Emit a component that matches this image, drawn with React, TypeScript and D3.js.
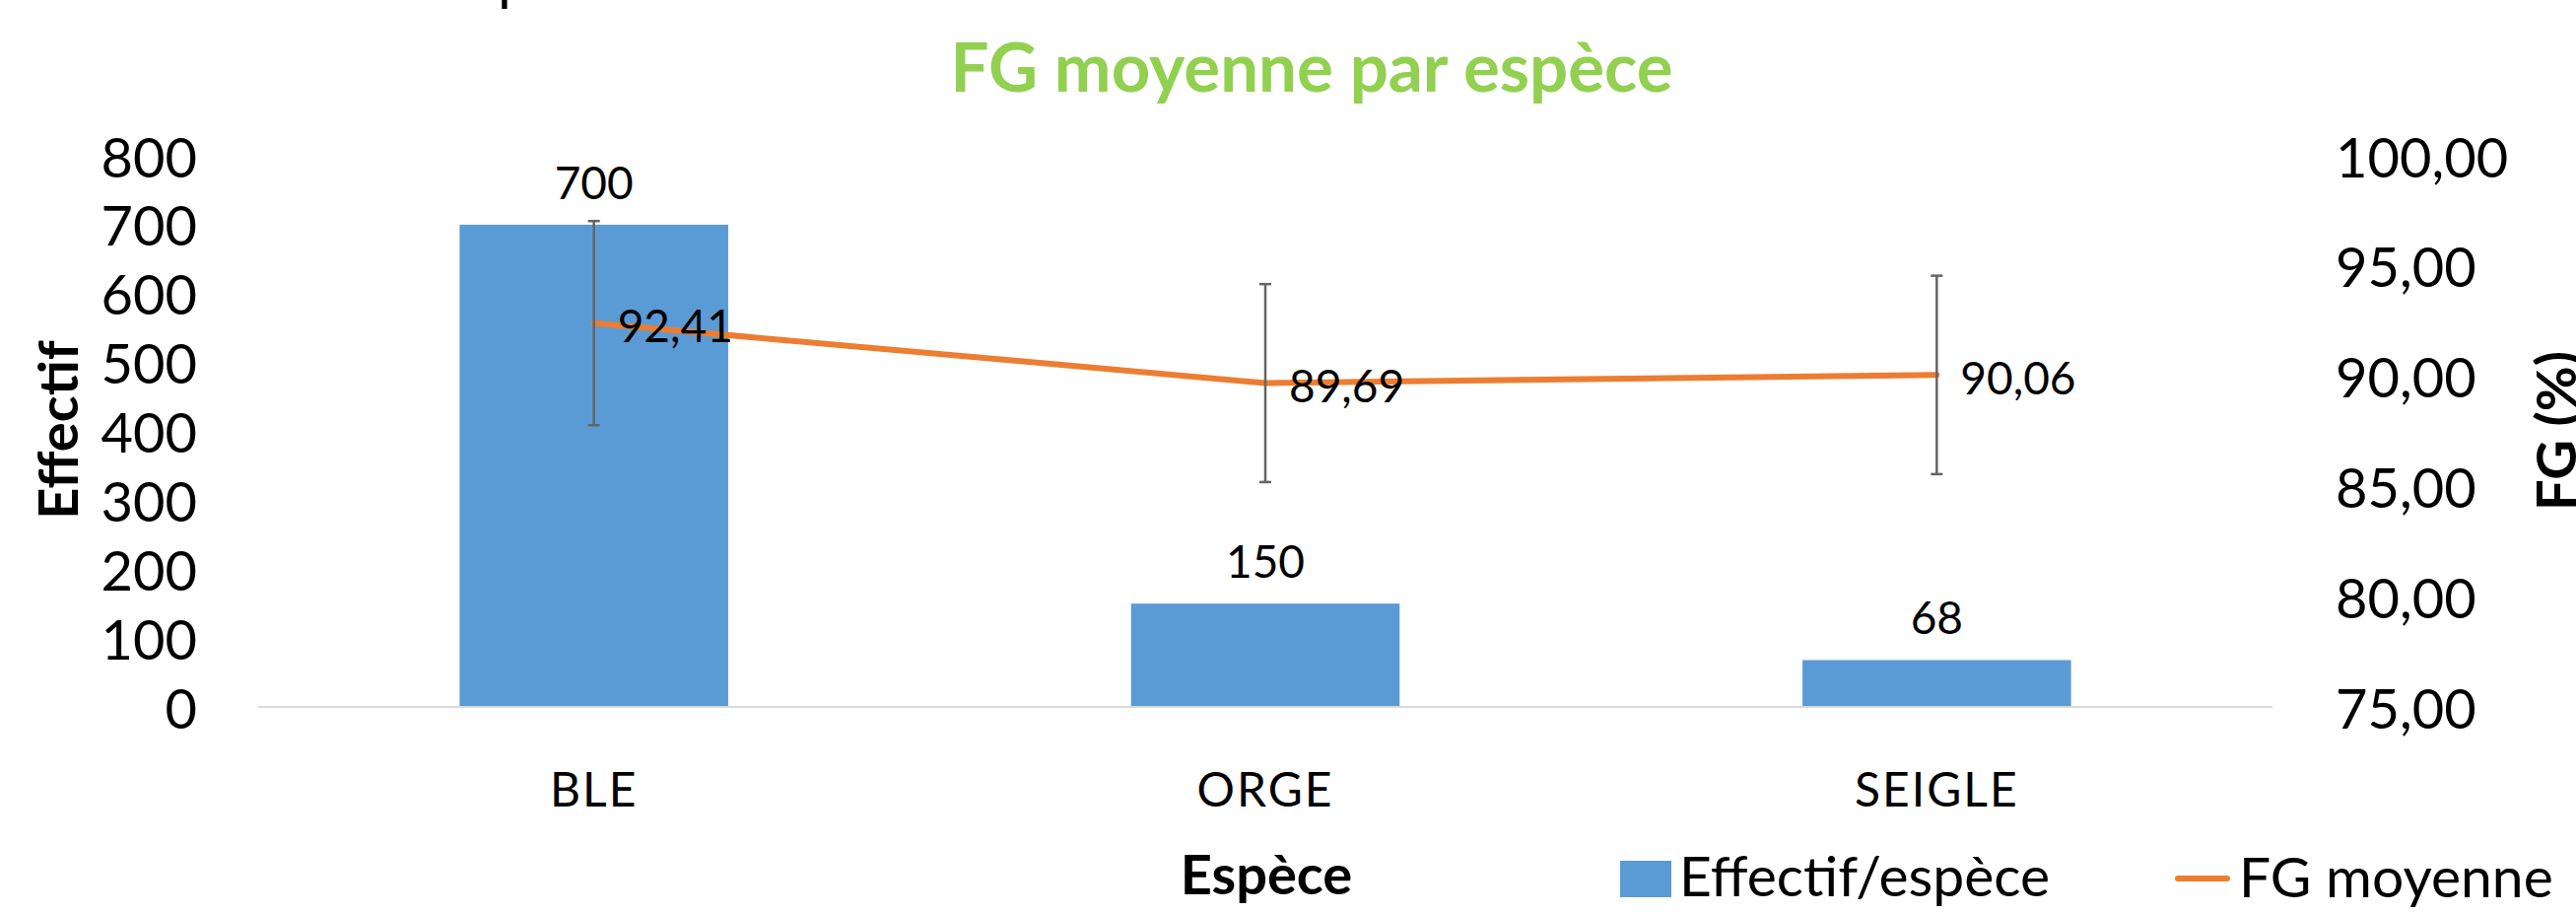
import { useEffect } from "react";
import * as d3 from "d3";

const categories = ["BLE", "ORGE", "SEIGLE"];
const effectif = [700, 150, 68];
const fgMoyenne = [92.41, 89.69, 90.06];
const fgErreur = [4.63, 4.49, 4.5];
const leftTicks = [0, 100, 200, 300, 400, 500, 600, 700, 800];
const rightTicks = [75, 80, 85, 90, 95, 100];

const W = 2614;
const H = 927;
const FONT = "Lato, 'Open Sans', sans-serif";
const BLUE = "#5B9BD5";
const ORANGE = "#ED7D31";

const fr = d3.formatLocale({
  decimal: ",",
  thousands: " ",
  grouping: [3],
  currency: ["", " €"],
});
const f2 = fr.format(".2f");

export default function App() {
  useEffect(() => {
    document.body.style.margin = "0";
  }, []);

  const plotLeft = 262;
  const plotRight = 2306;
  const plotTop = 158;
  const plotBottom = 717;

  const x = d3.scaleBand().domain(categories).range([plotLeft, plotRight]).padding(0);
  const yL = d3.scaleLinear().domain([0, 800]).range([plotBottom, plotTop]);
  const yR = d3.scaleLinear().domain([75, 100]).range([plotBottom, plotTop]);
  const barW = x.bandwidth() * 0.4;
  const cx = (c: string) => (x(c) ?? 0) + x.bandwidth() / 2;

  const line = d3
    .line<number>()
    .x((_, i) => cx(categories[i]))
    .y((d) => yR(d));

  return (
    <svg width={W} height={H} style={{ position: "absolute", left: 0, top: 0, background: "#fff" }}>
      {/* cut-off glyph at the very top */}
      <text x={505} y={-1} fontFamily={FONT} fontSize={60} fill="#000">
        p
      </text>

      {/* title */}
      <text
        x={1331}
        y={93}
        textAnchor="middle"
        fontFamily={FONT}
        fontWeight={700}
        fontSize={69}
        fill="#92D050"
      >
        FG moyenne par espèce
      </text>

      {/* left ticks */}
      {leftTicks.map((t) => (
        <text
          key={"l" + t}
          x={200}
          y={yL(t)}
          textAnchor="end"
          dominantBaseline="central"
          fontFamily={FONT}
          fontSize={56}
          fill="#000"
        >
          {t}
        </text>
      ))}

      {/* right ticks */}
      {rightTicks.map((t) => (
        <text
          key={"r" + t}
          x={2370}
          y={yR(t)}
          textAnchor="start"
          dominantBaseline="central"
          fontFamily={FONT}
          fontSize={56}
          fill="#000"
        >
          {f2(t)}
        </text>
      ))}

      {/* axis titles */}
      <text
        transform={`translate(57,436) rotate(-90)`}
        textAnchor="middle"
        dominantBaseline="central"
        fontFamily={FONT}
        fontWeight={700}
        fontSize={56}
        fill="#000"
      >
        Effectif
      </text>
      <text
        transform={`translate(2592,437) rotate(-90)`}
        textAnchor="middle"
        dominantBaseline="central"
        fontFamily={FONT}
        fontWeight={700}
        fontSize={56}
        fill="#000"
      >
        FG (%)
      </text>

      {/* bars */}
      {categories.map((c, i) => (
        <rect
          key={"b" + c}
          x={cx(c) - barW / 2}
          y={yL(effectif[i])}
          width={barW}
          height={plotBottom - yL(effectif[i])}
          fill={BLUE}
        />
      ))}

      {/* baseline */}
      <line x1={plotLeft} x2={plotRight} y1={plotBottom} y2={plotBottom} stroke="#D9D9D9" strokeWidth={2} />

      {/* bar labels */}
      {categories.map((c, i) => (
        <text
          key={"bl" + c}
          x={cx(c)}
          y={yL(effectif[i]) - 26}
          textAnchor="middle"
          fontFamily={FONT}
          fontSize={46}
          fill="#000"
        >
          {effectif[i]}
        </text>
      ))}

      {/* FG line */}
      <path d={line(fgMoyenne) ?? ""} fill="none" stroke={ORANGE} strokeWidth={6} strokeLinecap="round" strokeLinejoin="round" />

      {/* error bars */}
      {categories.map((c, i) => {
        const xc = cx(c);
        const y1 = yR(fgMoyenne[i] + fgErreur[i]);
        const y2 = yR(fgMoyenne[i] - fgErreur[i]);
        return (
          <g key={"e" + c} stroke="#646464" strokeWidth={2.5}>
            <line x1={xc} x2={xc} y1={y1} y2={y2} />
            <line x1={xc - 6} x2={xc + 6} y1={y1} y2={y1} />
            <line x1={xc - 6} x2={xc + 6} y1={y2} y2={y2} />
          </g>
        );
      })}

      {/* line labels */}
      {categories.map((c, i) => (
        <text
          key={"ll" + c}
          x={cx(c) + 24}
          y={yR(fgMoyenne[i]) + 2}
          dominantBaseline="central"
          fontFamily={FONT}
          fontSize={46}
          fill="#000"
        >
          {f2(fgMoyenne[i])}
        </text>
      ))}

      {/* category labels */}
      {categories.map((c) => (
        <text
          key={"c" + c}
          x={cx(c)}
          y={818}
          textAnchor="middle"
          fontFamily={FONT}
          fontSize={48}
          letterSpacing={2}
          fill="#000"
        >
          {c}
        </text>
      ))}

      {/* x axis title */}
      <text x={1285} y={907} textAnchor="middle" fontFamily={FONT} fontWeight={700} fontSize={56} fill="#000">
        Espèce
      </text>

      {/* legend */}
      <rect x={1644} y={873} width={52} height={37} fill={BLUE} />
      <text x={1704} y={909} fontFamily={FONT} fontSize={57} fill="#000">
        Effectif/espèce
      </text>
      <line x1={2210} x2={2260} y1={891} y2={891} stroke={ORANGE} strokeWidth={6} strokeLinecap="round" />
      <text x={2272} y={910} fontFamily={FONT} fontSize={57} fill="#000">
        FG moyenne
      </text>
    </svg>
  );
}
